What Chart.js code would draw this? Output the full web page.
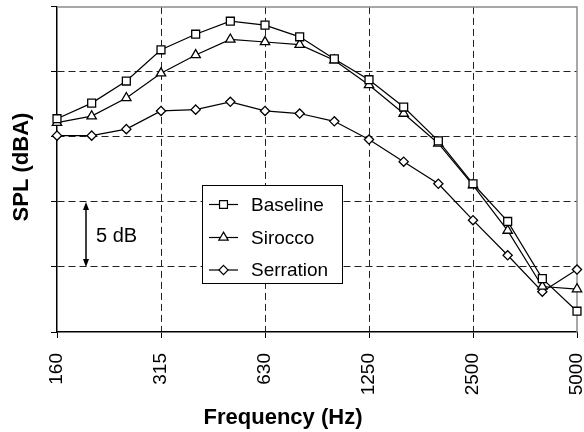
<!DOCTYPE html>
<html>
<head>
<meta charset="utf-8">
<script src="https://cdn.jsdelivr.net/npm/chart.js@4/dist/chart.umd.min.js"></script>
<style>
  body { margin: 0; background: #fff; }
  #wrap { width: 584px; height: 432px; }
</style>
</head>
<body>
<div id="wrap"><canvas id="splChart" width="584" height="432"></canvas></div>
<script>
// 1/3 octave band centre frequencies (Hz)
const freqLabels = ['160', '200', '250', '315', '400', '500', '630', '800', '1000', '1250', '1600', '2000', '2500', '3150', '4000', '5000'];
const shownFreqs = ['160', '315', '630', '1250', '2500', '5000'];

// relative SPL (dB, 5 dB per grid step)
const baseline  = [16.4, 17.6, 19.3, 21.7, 22.9, 23.9, 23.6, 22.7, 21.0, 19.4, 17.3, 14.7, 11.4, 8.5, 4.1, 1.6];
const sirocco   = [16.1, 16.6, 18.0, 19.9, 21.3, 22.5, 22.3, 22.1, 20.9, 19.0, 16.8, 14.5, 11.3, 7.8, 3.5, 3.3];
const serration = [15.1, 15.1, 15.6, 17.0, 17.1, 17.7, 17.0, 16.8, 16.2, 14.8, 13.1, 11.4, 8.6, 5.9, 3.1, 4.8];

const seriesNames = ['Baseline', 'Sirocco', 'Serration'];

const FONT = "'Liberation Sans', Arial, Helvetica, sans-serif";
const GRID = '#222';

// small marker drawer for the hand made legend
function drawMarker(ctx, style, x, y, r) {
    ctx.beginPath();
    if (style === 'rect') {
        const s = r * Math.SQRT1_2;
        ctx.rect(x - s, y - s, 2 * s, 2 * s);
    } else if (style === 'triangle') {
        ctx.moveTo(x, y - r);
        ctx.lineTo(x + r * 0.866, y + r * 0.5);
        ctx.lineTo(x - r * 0.866, y + r * 0.5);
        ctx.closePath();
    } else {
        ctx.moveTo(x, y - r);
        ctx.lineTo(x + r, y);
        ctx.lineTo(x, y + r);
        ctx.lineTo(x - r, y);
        ctx.closePath();
    }
    ctx.fill();
    ctx.stroke();
}

const extras = {
    id: 'extras',
    beforeDatasetsDraw(chart) {
        const { ctx, chartArea: a } = chart;
        // grey top / right frame
        ctx.save();
        ctx.strokeStyle = '#8c8c8c';
        ctx.lineWidth = 1.5;
        ctx.beginPath();
        ctx.moveTo(a.left, a.top);
        ctx.lineTo(a.right, a.top);
        ctx.lineTo(a.right, a.bottom);
        ctx.stroke();
        ctx.restore();
    },
    afterDatasetsDraw(chart) {
        const { ctx, chartArea: a } = chart;
        const y = chart.scales.y;
        ctx.save();

        // 5 dB arrow
        const ax = 86;
        const y1 = y.getPixelForValue(10);
        const y2 = y.getPixelForValue(5);
        ctx.strokeStyle = '#000';
        ctx.fillStyle = '#000';
        ctx.lineWidth = 1.5;
        ctx.beginPath();
        ctx.moveTo(ax, y1 + 4);
        ctx.lineTo(ax, y2 - 4);
        ctx.stroke();
        ctx.beginPath();
        ctx.moveTo(ax, y1);
        ctx.lineTo(ax - 3, y1 + 8);
        ctx.lineTo(ax + 3, y1 + 8);
        ctx.closePath();
        ctx.fill();
        ctx.beginPath();
        ctx.moveTo(ax, y2);
        ctx.lineTo(ax - 3, y2 - 8);
        ctx.lineTo(ax + 3, y2 - 8);
        ctx.closePath();
        ctx.fill();
        ctx.font = '20px ' + FONT;
        ctx.textAlign = 'left';
        ctx.textBaseline = 'middle';
        ctx.fillText('5 dB', 96, (y1 + y2) / 2 + 2);

        // legend box
        const bx = 202, by = 185, bw = 140, bh = 98;
        ctx.fillStyle = '#fff';
        ctx.fillRect(bx, by, bw, bh);
        ctx.strokeStyle = '#000';
        ctx.lineWidth = 1;
        ctx.strokeRect(bx + 0.5, by + 0.5, bw, bh);
        const rows = [204.5, 237.5, 270];
        chart.data.datasets.forEach((ds, i) => {
            const ry = rows[i];
            ctx.strokeStyle = '#000';
            ctx.lineWidth = 1.2;
            ctx.beginPath();
            ctx.moveTo(209, ry);
            ctx.lineTo(238, ry);
            ctx.stroke();
            ctx.fillStyle = '#fff';
            drawMarker(ctx, ds.pointStyle, 223.5, ry, ds.pointRadius);
            ctx.fillStyle = '#000';
            ctx.font = '19px ' + FONT;
            ctx.textBaseline = 'middle';
            ctx.fillText(ds.label, 251, ry + 1);
        });

        // axis titles
        ctx.fillStyle = '#000';
        ctx.font = 'bold 22px ' + FONT;
        ctx.textAlign = 'center';
        ctx.textBaseline = 'alphabetic';
        ctx.fillText('Frequency (Hz)', 283, 424);
        ctx.translate(28, 167);
        ctx.rotate(-Math.PI / 2);
        ctx.fillText('SPL (dBA)', 0, 0);
        ctx.restore();
    }
};

const styles = ['rect', 'triangle', 'rectRot'];
const radii = [5.6, 5.4, 4.6];
const values = [baseline, sirocco, serration];

new Chart(document.getElementById('splChart').getContext('2d'), {
    type: 'line',
    data: {
        labels: freqLabels,
        datasets: values.map((v, i) => ({
            label: seriesNames[i],
            data: v,
            borderColor: '#000',
            borderWidth: 1.2,
            pointStyle: styles[i],
            pointRadius: radii[i],
            pointBackgroundColor: '#fff',
            pointBorderColor: '#000',
            pointBorderWidth: 1.3,
            tension: 0,
            fill: false
        }))
    },
    options: {
        responsive: false,
        animation: false,
        devicePixelRatio: 1,
        layout: { padding: { left: 0, top: 5, right: 7, bottom: 0 } },
        plugins: {
            legend: { display: false },
            tooltip: { enabled: false }
        },
        scales: {
            x: {
                type: 'category',
                afterFit: s => { s.height = 100; s.paddingLeft = 0; s.paddingRight = 0; },
                grid: {
                    color: c => (c.index % 3 === 0 && c.index > 0 && c.index < 15) ? GRID : 'rgba(0,0,0,0)',
                    tickColor: c => (c.index % 3 === 0) ? '#000' : 'rgba(0,0,0,0)',
                    tickLength: 6,
                    lineWidth: 1
                },
                border: { color: '#000', width: 1.5, dash: [7, 4] },
                ticks: {
                    autoSkip: false,
                    minRotation: 90,
                    maxRotation: 90,
                    padding: 15,
                    color: '#000',
                    font: { family: FONT, size: 19 },
                    callback: (v, i) => shownFreqs.includes(freqLabels[i]) ? freqLabels[i] : ''
                }
            },
            y: {
                min: 0,
                max: 25,
                afterFit: s => { s.width = 57; s.paddingTop = 0; s.paddingBottom = 0; },
                grid: {
                    color: c => (c.tick && c.tick.value > 0 && c.tick.value < 25) ? GRID : 'rgba(0,0,0,0)',
                    tickColor: '#000',
                    tickLength: 6,
                    lineWidth: 1
                },
                border: { color: '#000', width: 1.5, dash: [7, 4] },
                ticks: { stepSize: 5, display: false }
            }
        }
    },
    plugins: [extras]
});
</script>
</body>
</html>
